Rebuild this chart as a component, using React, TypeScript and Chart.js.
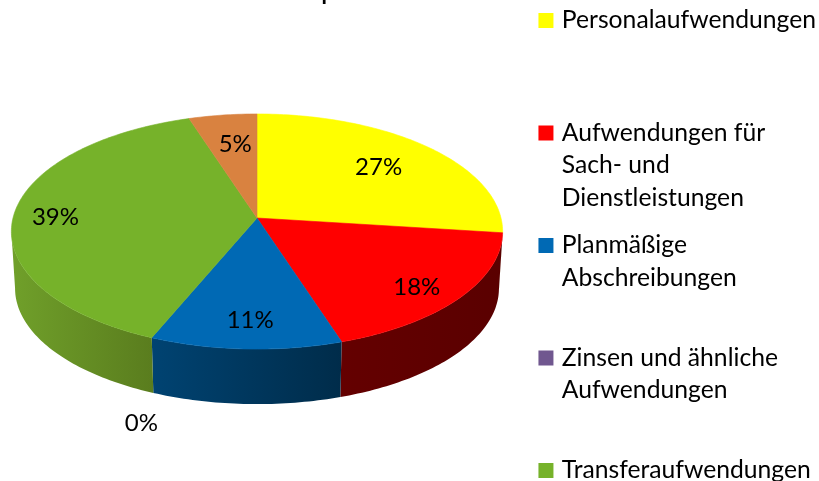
import React, { useEffect, useRef } from "react";
import { Chart, registerables } from "chart.js";

Chart.register(...registerables);

const categories: string[][] = [
  ["Personalaufwendungen", "", ""],
  ["Aufwendungen für", "Sach- und", "Dienstleistungen"],
  ["Planmäßige", "Abschreibungen", ""],
  ["Zinsen und ähnliche", "Aufwendungen", ""],
  ["Transferaufwendungen", "", ""],
  ["Sonstige Aufwendungen", "", ""],
];
const values = [27, 18, 11.3, 0, 38.7, 5];
const faceColors = ["#FFFF00", "#FF0000", "#0069B4", "#70578F", "#76B22A", "#D98240"];
const wallLeft = ["#666600", "#640000", "#004372", "#4A3A60", "#70A02A", "#8A5228"];
const wallRight = ["#666600", "#5A0000", "#002C4A", "#4A3A60", "#5A7D1E", "#8A5228"];
const labelRadius = [0.7, 0.8, 0.8, 1.21, 0.83, 0.7];
const labelShiftX = [0, 0, 2, 15, 0, 3];
const labelShiftY = [0, 6, 0, 57, 3, 1];
const titleText = "Hauptaufwandsarten 2013";

const FONT = "Lato, Carlito, Calibri, sans-serif";
const LABEL_SIZE = 24;
const LEGEND_SIZE = 24.7;
const TITLE_SIZE = 22;
const OFFSET_Y = 20;
const CX = 257;
const APEX_Y = 218 + OFFSET_Y;
const RX = 244;
const RY = 116;
const K = 0.115;
const DEPTH = 57;
const WALL_SCALE = 0.985;

function project(theta: number, f = 1, wall = false) {
  const u = f * Math.sin(theta);
  const v = -f * Math.cos(theta);
  const w = 1 - K * v;
  const s = wall ? WALL_SCALE : 1;
  return { x: CX + (s * RX * u) / w, y: APEX_Y + (wall ? DEPTH : 0) + (s * RY * v) / w };
}

const pie3d = {
  id: "pie3d",
  beforeDatasetsDraw(chart: any) {
    const ctx = chart.ctx as CanvasRenderingContext2D;
    const arcs = chart.getDatasetMeta(0).data;
    const a = Math.acos(-K);
    const visA = a;
    const visB = 2 * Math.PI - a;
    ctx.save();
    arcs.forEach((el: any, i: number) => {
      const s = Math.max(el.startAngle + Math.PI / 2, visA);
      const e = Math.min(el.endAngle + Math.PI / 2, visB);
      if (e <= s) return;
      const n = Math.max(2, Math.ceil(((e - s) * 180) / Math.PI));
      ctx.beginPath();
      for (let j = 0; j <= n; j++) {
        const p = project(s + ((e - s) * j) / n);
        j ? ctx.lineTo(p.x, p.y) : ctx.moveTo(p.x, p.y);
      }
      for (let j = n; j >= 0; j--) {
        const p = project(s + ((e - s) * j) / n, 1, true);
        ctx.lineTo(p.x, p.y);
      }
      ctx.closePath();
      const p0 = project(s);
      const p1 = project(e);
      const g = ctx.createLinearGradient(Math.min(p0.x, p1.x), 0, Math.max(p0.x, p1.x), 0);
      g.addColorStop(0, wallLeft[i]);
      g.addColorStop(1, wallRight[i]);
      ctx.fillStyle = g;
      ctx.fill();
    });
    arcs.forEach((el: any, i: number) => {
      const s = el.startAngle + Math.PI / 2;
      const e = el.endAngle + Math.PI / 2;
      if (e - s < 1e-4) return;
      const n = Math.max(2, Math.ceil(((e - s) * 180) / Math.PI));
      ctx.beginPath();
      const c = project(0, 0);
      ctx.moveTo(c.x, c.y);
      for (let j = 0; j <= n; j++) {
        const p = project(s + ((e - s) * j) / n);
        ctx.lineTo(p.x, p.y);
      }
      ctx.closePath();
      ctx.fillStyle = faceColors[i];
      ctx.strokeStyle = faceColors[i];
      ctx.lineWidth = 0.6;
      ctx.fill();
      ctx.stroke();
    });
    ctx.font = `${LABEL_SIZE}px ${FONT}`;
    ctx.fillStyle = "#000";
    ctx.textAlign = "center";
    ctx.textBaseline = "middle";
    const total = values.reduce((x, y) => x + y, 0);
    arcs.forEach((el: any, i: number) => {
      const mid = (el.startAngle + el.endAngle) / 2 + Math.PI / 2;
      const p = project(mid, labelRadius[i]);
      ctx.fillText(`${Math.round((values[i] / total) * 100)}%`, p.x + labelShiftX[i], p.y + labelShiftY[i]);
    });
    ctx.restore();
    return false;
  },
};

export default function App() {
  const ref = useRef<HTMLCanvasElement>(null);
  useEffect(() => {
    const chart = new Chart(ref.current as HTMLCanvasElement, {
      type: "pie",
      data: {
        labels: categories as any,
        datasets: [{ data: values, backgroundColor: faceColors, borderWidth: 0 }],
      },
      options: {
        animation: false,
        responsive: false,
        devicePixelRatio: 1,
        layout: { padding: { right: -7 } },
        plugins: {
          title: {
            display: true,
            text: titleText,
            color: "#000",
            font: { family: FONT, size: TITLE_SIZE, weight: "bold" },
            padding: { top: 0, bottom: -13.25 },
          },
          tooltip: { enabled: false },
          legend: {
            display: true,
            position: "right",
            align: "start",
            fullSize: false,
            labels: {
              boxWidth: 7,
              boxHeight: 7,
              padding: 15,
              color: "#000",
              font: { family: FONT, size: LEGEND_SIZE, lineHeight: 32.5 / LEGEND_SIZE },
              generateLabels: () =>
                categories.slice(0, 5).map((text, i) => ({
                  text,
                  fillStyle: faceColors[i],
                  strokeStyle: faceColors[i],
                  lineWidth: 8,
                  lineJoin: "miter",
                  hidden: false,
                  index: i,
                })) as any,
            },
          },
        },
      },
      plugins: [pie3d as any],
    });
    return () => chart.destroy();
  }, []);
  return (
    <div style={{ position: "fixed", left: 0, top: 0, width: 819, height: 481, overflow: "hidden", background: "#fff" }}>
      <canvas ref={ref} width={819} height={640} style={{ position: "absolute", left: 0, top: -OFFSET_Y, width: 819, height: 640 }} />
    </div>
  );
}
